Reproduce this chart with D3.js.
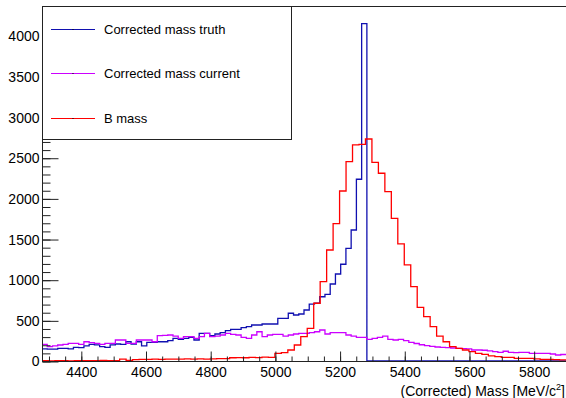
<!DOCTYPE html>
<html>
<head>
<meta charset="utf-8">
<script src="https://cdn.jsdelivr.net/npm/d3@7"></script>
<style>
  body { margin: 0; background: #fff; }
  svg { display: block; font-family: "Liberation Sans", Arial, sans-serif; }
  .axis text { font-size: 14px; fill: #000; }
  .axis line, .axis path { stroke: #222; }
</style>
</head>
<body>
<div id="chart"></div>
<script>
// x range of all histograms (MeV/c^2)
var xMin = 4280, xMax = 5900;

// Corrected mass truth: 100 bins
var truthCounts = [148, 145, 145, 156, 156, 148, 168, 165, 185, 205,
                   198, 176, 168, 198, 209, 205, 237, 209, 237, 185,
                   230, 230, 237, 237, 250, 279, 267, 279, 291, 258,
                   340, 340, 311, 332, 348, 373, 390, 390, 410, 422,
                   443, 443, 455, 455, 455, 525, 525, 587, 566, 578,
                   627, 700, 710, 790, 820, 947, 1070, 1190, 1386, 1611,
                   2235, 4150, 0, 0, 0, 0, 0, 0, 0, 0,
                   0, 0, 0, 0, 0, 0, 0, 0, 0, 0,
                   0, 0, 0, 0, 0, 0, 0, 0, 0, 0,
                   0, 0, 0, 0, 0, 0, 0, 0, 0, 0];

// Corrected mass current: 100 bins
var currentCounts = [205, 176, 185, 197, 205, 217, 217, 205, 237, 227,
                     217, 205, 217, 217, 258, 258, 217, 217, 258, 258,
                     258, 237, 311, 315, 320, 307, 279, 299, 299, 279,
                     299, 340, 299, 307, 320, 340, 328, 320, 291, 279,
                     320, 360, 299, 320, 328, 328, 307, 320, 332, 340,
                     340, 348, 360, 381, 332, 348, 348, 348, 320, 307,
                     291, 291, 267, 279, 291, 307, 267, 258, 267, 250,
                     230, 215, 200, 190, 180, 172, 168, 165, 160, 156,
                     152, 150, 135, 135, 132, 125, 115, 107, 120, 107,
                     102, 107, 107, 94, 94, 94, 94, 86, 74, 80];

// B mass: 81 bins of 20 MeV
var bMassCounts = [3, 2, 4, 3, 2, 5, 4, 3, 5, 6,
                   4, 5, 22, 8, 18, 20, 20, 22, 20, 22,
                   24, 22, 25, 24, 25, 24, 26, 28, 30, 40,
                   42, 40, 45, 42, 48, 45, 95, 102, 135, 197,
                   299, 402, 710, 975, 1365, 1690, 2091, 2452, 2657, 2665,
                   2730, 2444, 2309, 2083, 1755, 1440, 1181, 914, 660, 545,
                   422, 307, 237, 176, 156, 135, 115, 94, 82, 62,
                   53, 45, 45, 33, 33, 33, 25, 21, 20, 18, 15];

var series = [
  { name: "Corrected mass truth",   counts: truthCounts,   color: "#1010b0" },
  { name: "Corrected mass current", counts: currentCounts, color: "#cc00ff" },
  { name: "B mass",                 counts: bMassCounts,   color: "#ff0000" }
];

var xMajor = [4400, 4600, 4800, 5000, 5200, 5400, 5600, 5800];
var yMajor = [0, 500, 1000, 1500, 2000, 2500, 3000, 3500, 4000];

var width = 566, height = 398;
var frame = {x0: 42, x1: 566, y0: 6, y1: 361};

var x = d3.scaleLinear().domain([xMin, xMax]).range([frame.x0, frame.x1]);
var y = d3.scaleLinear().domain([0, 4366]).range([frame.y1, frame.y0]);

var svg = d3.select("#chart").append("svg")
    .attr("width", width)
    .attr("height", height);

// histogram outline as a step path
function histPath(counts) {
  var n = counts.length, bw = (xMax - xMin) / n, pts = [];
  counts.forEach(function(c, i) {
    pts.push([xMin + i * bw, c]);
    pts.push([xMin + (i + 1) * bw, c]);
  });
  return d3.line()
      .x(function(d) { return x(d[0]); })
      .y(function(d) { return y(d[1]); })(pts);
}

var plot = svg.append("g");
plot.append("clipPath").attr("id", "clip")
  .append("rect").attr("x", frame.x0).attr("y", frame.y0)
  .attr("width", frame.x1 - frame.x0).attr("height", frame.y1 - frame.y0);

plot.selectAll(".hist")
    .data(series)
  .enter().append("path")
    .attr("class", "hist")
    .attr("clip-path", "url(#clip)")
    .attr("d", function(d) { return histPath(d.counts); })
    .attr("fill", "none")
    .attr("stroke", function(d) { return d.color; })
    .attr("stroke-width", 1.3);

// frame
svg.append("rect")
    .attr("x", frame.x0 + 0.5).attr("y", frame.y0 + 0.5)
    .attr("width", frame.x1 - frame.x0 + 2).attr("height", frame.y1 - frame.y0)
    .attr("fill", "none")
    .attr("stroke", "#222");

// y axis, inward ticks
var yMinor = d3.range(0, 4301, 100);
svg.append("g")
    .attr("class", "axis")
    .attr("transform", "translate(" + (frame.x0 + 0.5) + ",0.5)")
    .call(d3.axisLeft(y).tickValues(yMinor).tickSize(-8).tickFormat(""))
    .call(function(g) { g.select(".domain").remove(); });

svg.append("g")
    .attr("class", "axis")
    .attr("transform", "translate(" + (frame.x0 + 0.5) + ",0.5)")
    .call(d3.axisLeft(y).tickValues(yMajor).tickSize(-16).tickPadding(3)
      .tickFormat(d3.format("d")))
    .call(function(g) { g.select(".domain").remove(); });

// x axis, ticks pointing up
var xMinor = d3.range(4300, 5901, 50);
svg.append("g")
    .attr("class", "axis")
    .attr("transform", "translate(0.5," + (frame.y1 + 0.5) + ")")
    .call(d3.axisBottom(x).tickValues(xMinor).tickSize(-5).tickFormat(""))
    .call(function(g) { g.select(".domain").remove(); });

svg.append("g")
    .attr("class", "axis")
    .attr("transform", "translate(0.5," + (frame.y1 + 0.5) + ")")
    .call(d3.axisBottom(x).tickValues(xMajor).tickSize(-10).tickPadding(6)
      .tickFormat(d3.format("d")))
    .call(function(g) { g.select(".domain").remove(); });

// x title
var xt = svg.append("text")
    .attr("x", 565)
    .attr("y", 396)
    .attr("text-anchor", "end")
    .style("font-size", "14px");
xt.append("tspan").text("(Corrected) Mass [MeV/c");
xt.append("tspan").attr("dy", -6).style("font-size", "9px").text("2");
xt.append("tspan").attr("dy", 6).text("]");

// legend
var legend = svg.append("g");
legend.append("rect")
    .attr("x", frame.x0 + 0.5).attr("y", frame.y0 + 0.5)
    .attr("width", 249).attr("height", 133)
    .attr("fill", "#fff")
    .attr("stroke", "#222");

var rowY = [29, 73, 118];
var entry = legend.selectAll(".entry")
    .data(series)
  .enter().append("g")
    .attr("class", "entry")
    .attr("transform", function(d, i) { return "translate(0," + rowY[i] + ")"; });

entry.append("line")
    .attr("x1", 51).attr("x2", 95)
    .attr("y1", 0.5).attr("y2", 0.5)
    .attr("stroke", function(d) { return d.color; })
    .attr("stroke-width", 1.2);

entry.append("rect")
    .attr("x", 72.5).attr("y", 0).attr("width", 1).attr("height", 1)
    .attr("fill", "#000");

entry.append("text")
    .attr("x", 104)
    .attr("y", 5)
    .style("font-size", "13px")
    .text(function(d) { return d.name; });
</script>
</body>
</html>
